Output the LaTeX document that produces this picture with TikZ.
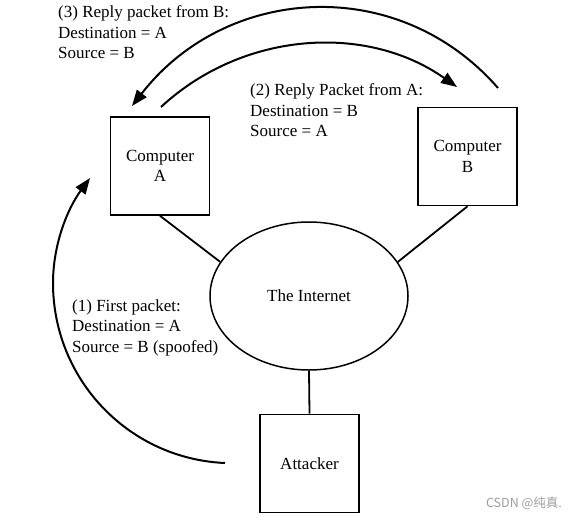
\documentclass[tikz,border=0pt]{standalone}
\usepackage{fontspec}
\setmainfont{Liberation Serif}
\newfontfamily\cjkfont{Noto Sans CJK SC}
\usetikzlibrary{arrows.meta,shapes.geometric}
\begin{document}
\begin{tikzpicture}[x=1pt,y=-1pt,
  txt/.style={font=\fontsize{17}{20.5}\selectfont},
  box/.style={txt,draw,line width=1.6pt,minimum width=99pt,minimum height=98pt,inner sep=0pt,align=center},
  cloud/.style={txt,draw,ellipse,line width=1.5pt,minimum width=198pt,minimum height=148pt,inner sep=0pt},
  lbl/.style={txt,align=left,anchor=west,inner sep=0pt},
  link/.style={line width=1.8pt},
  arr/.style={line width=2pt,-{Triangle[length=16pt,width=12pt]}}
]
\fill[white] (0,0) rectangle (577,519);
\useasboundingbox (0,0) rectangle (577,519);

\node[box] (A) at (160,166) {Computer\\A};
\node[box] (B) at (467.5,156.5) {Computer\\B};
\node[box] (att) at (309.5,463.5) {Attacker};
\node[cloud] (net) at (309,296) {The Internet};

\draw[link] (A.south) -- (net.159);
\draw[link] (B.south) -- (net.21);
\draw[link] (att.north) -- (net.south);

\node[lbl] (l3) at (58,32.3) {(3) Reply packet from B:\\Destination = A\\Source = B};
\node[lbl] (l2) at (250,110.5) {(2) Reply Packet from A:\\Destination = B\\Source = A};
\node[lbl] (l1) at (72,327.5) {(1) First packet:\\Destination = A\\Source = B (spoofed)};

\coordinate (s3) at (498,88);
\coordinate (t3) at (132,106);
\coordinate (s2) at (161,107);
\coordinate (t2) at (457,87);
\coordinate (s1) at (225,463);
\coordinate (m1) at (53,283);
\coordinate (t1) at (90,178);

\draw[arr] (s3) .. controls (397.5,-27) and (225.7,-14.7) .. (t3);
\draw[arr] (s2) .. controls (242.6,31.3) and (366,23) .. (t2);
\draw[arr] (s1) .. controls (128.6,458.8) and (53,379.5) .. (m1)
               .. controls (53,244.6) and (67.3,209) .. (t1);

\node[font=\cjkfont\fontsize{12.5}{12.5}\selectfont,text=gray!75,inner sep=0pt] (wm) at (524,503) {CSDN @纯真.};
\end{tikzpicture}
\end{document}
